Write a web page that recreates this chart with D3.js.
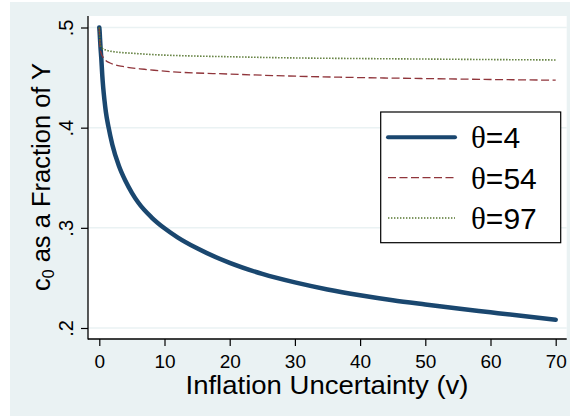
<!DOCTYPE html>
<html><head><meta charset="utf-8">
<script src="https://cdn.jsdelivr.net/npm/d3@7"></script>
<style>body{margin:0;background:#fff}svg{display:block}text{font-family:"Liberation Sans",Arial,sans-serif}</style>
</head><body>
<script>
// ---- data ----
const vTheta4  = [0,0.05,0.1,0.2,0.3,0.45,0.6,0.8,1,1.4,2,3,4,5,6,8,10,12,15,20,25,30,35,40,45,50,55,60,65,70];
const cTheta4  = [0.5,0.496,0.49,0.479,0.47,0.453,0.44,0.427,0.416,0.401,0.383,0.362,0.347,0.335,0.325,0.3105,0.2995,0.2905,0.2795,0.265,0.254,0.2455,0.2385,0.2327,0.2277,0.2235,0.2195,0.2157,0.2119,0.2082];
const vTheta54 = [0,0.05,0.1,0.2,0.72,1.75,3.8,6.9,8.4,11,20,29,40,50,60,70];
const cTheta54 = [0.5,0.49,0.482,0.476,0.469,0.4643,0.4609,0.4583,0.4573,0.4559,0.4535,0.4516,0.4500,0.4490,0.4481,0.4474];
const vTheta97 = [0,0.05,0.1,0.2,0.46,1,2.25,5.3,8.4,11,20,29,40,50,60,70];
const cTheta97 = [0.5,0.492,0.486,0.482,0.4792,0.4775,0.4758,0.4742,0.4729,0.4722,0.4708,0.4697,0.469,0.4685,0.468,0.4676];
const seriesLabels = ["4","54","97"];
const xTicks = [0,10,20,30,40,50,60,70];
const yTicks = [0.2,0.3,0.4,0.5];
const yTickLabels = [".2",".3",".4",".5"];

const W=570,H=417;
const svg=d3.select("body").append("svg").attr("width",W).attr("height",H);
svg.append("rect").attr("x",10).attr("y",2).attr("width",560).attr("height",414).attr("fill","#eaf2f3");
const plot={l:88,r:566.7,t:16,b:339};
svg.append("rect").attr("x",plot.l).attr("y",plot.t).attr("width",plot.r-plot.l).attr("height",plot.b-plot.t).attr("fill","#fff");

const x=d3.scaleLinear().domain([0,70]).range([99.3,555.7]);
const y=d3.scaleLinear().domain([0.2,0.5]).range([328,27.5]);

// gridlines
svg.append("g").selectAll("line").data(yTicks).join("line")
  .attr("x1",plot.l).attr("x2",plot.r).attr("y1",d=>y(d)).attr("y2",d=>y(d))
  .attr("stroke","#eaf2f3").attr("stroke-width",1.5);

// axes
const yAxis=svg.append("g").attr("transform",`translate(${plot.l},0)`)
  .call(d3.axisLeft(y).tickValues(yTicks).tickSize(7).tickFormat((d,i)=>yTickLabels[i]));
yAxis.select(".domain").remove();
yAxis.selectAll(".tick line").attr("stroke","#000").attr("stroke-width",1.2);
yAxis.selectAll(".tick text").attr("font-size",20).attr("fill","#000")
  .attr("x",0).attr("y",0).attr("dy",null).attr("text-anchor","middle")
  .attr("transform","translate(-15,0) rotate(-90)");

const xAxis=svg.append("g").attr("transform",`translate(0,${plot.b})`)
  .call(d3.axisBottom(x).tickValues(xTicks).tickSize(7).tickFormat(d3.format("d")));
xAxis.select(".domain").remove();
xAxis.selectAll(".tick line").attr("stroke","#000").attr("stroke-width",1.2);
xAxis.selectAll(".tick text").attr("font-size",19).attr("fill","#000").attr("y",29).attr("dy",null);

svg.append("line").attr("x1",plot.l).attr("x2",plot.l).attr("y1",plot.t).attr("y2",plot.b+0.5).attr("stroke","#000").attr("stroke-width",1.3);
svg.append("line").attr("x1",plot.l).attr("x2",plot.r).attr("y1",plot.b).attr("y2",plot.b).attr("stroke","#000").attr("stroke-width",1.3);

// titles
svg.append("text").attr("x",327).attr("y",394).attr("text-anchor","middle").attr("font-size",26)
  .attr("textLength",283).attr("lengthAdjust","spacingAndGlyphs").text("Inflation Uncertainty (v)");
const yt=svg.append("text").attr("transform","translate(50,177) rotate(-90)").attr("text-anchor","middle").attr("font-size",25.5);
yt.append("tspan").text("c");
yt.append("tspan").attr("font-size",16).attr("dy",4).text("0");
yt.append("tspan").attr("dy",-4).text(" as a Fraction of Y");

// lines
const series=[
  {v:vTheta4,c:cTheta4,color:"#1a476f",w:4.5,dash:null},
  {v:vTheta54,c:cTheta54,color:"#90353b",w:1.3,dash:"8,3.5"},
  {v:vTheta97,c:cTheta97,color:"#55752f",w:1.6,dash:"1.4,1.6"}
];
const line=d3.line().x(d=>x(d[0])).y(d=>y(d[1])).curve(d3.curveMonotoneX);
series.forEach(s=>{
  svg.append("path").attr("d",line(s.v.map((v,i)=>[v,s.c[i]])))
    .attr("fill","none").attr("stroke",s.color).attr("stroke-width",s.w)
    .attr("stroke-dasharray",s.dash).attr("stroke-linejoin","round").attr("stroke-linecap",s.dash?"butt":"round");
});

// legend
const lg=svg.append("g");
lg.append("rect").attr("x",380.7).attr("y",112).attr("width",180).attr("height",130.7).attr("fill","#fff").attr("stroke","#000").attr("stroke-width",1.2);
const ly=[137.3,177.7,218];
series.forEach((s,i)=>{
  lg.append("line").attr("x1",388).attr("x2",455).attr("y1",ly[i]).attr("y2",ly[i])
    .attr("stroke",s.color).attr("stroke-width",s.w===4.5?4:s.w).attr("stroke-dasharray",s.dash).attr("stroke-linecap",s.dash?"butt":"round");
  const t=lg.append("text").attr("x",471).attr("y",ly[i]+11).attr("font-size",30);
  t.append("tspan").attr("font-family","'Liberation Serif','Times New Roman',serif").attr("font-size",31).text("θ");
  t.append("tspan").text("="+seriesLabels[i]);
});
</script>
</body></html>
